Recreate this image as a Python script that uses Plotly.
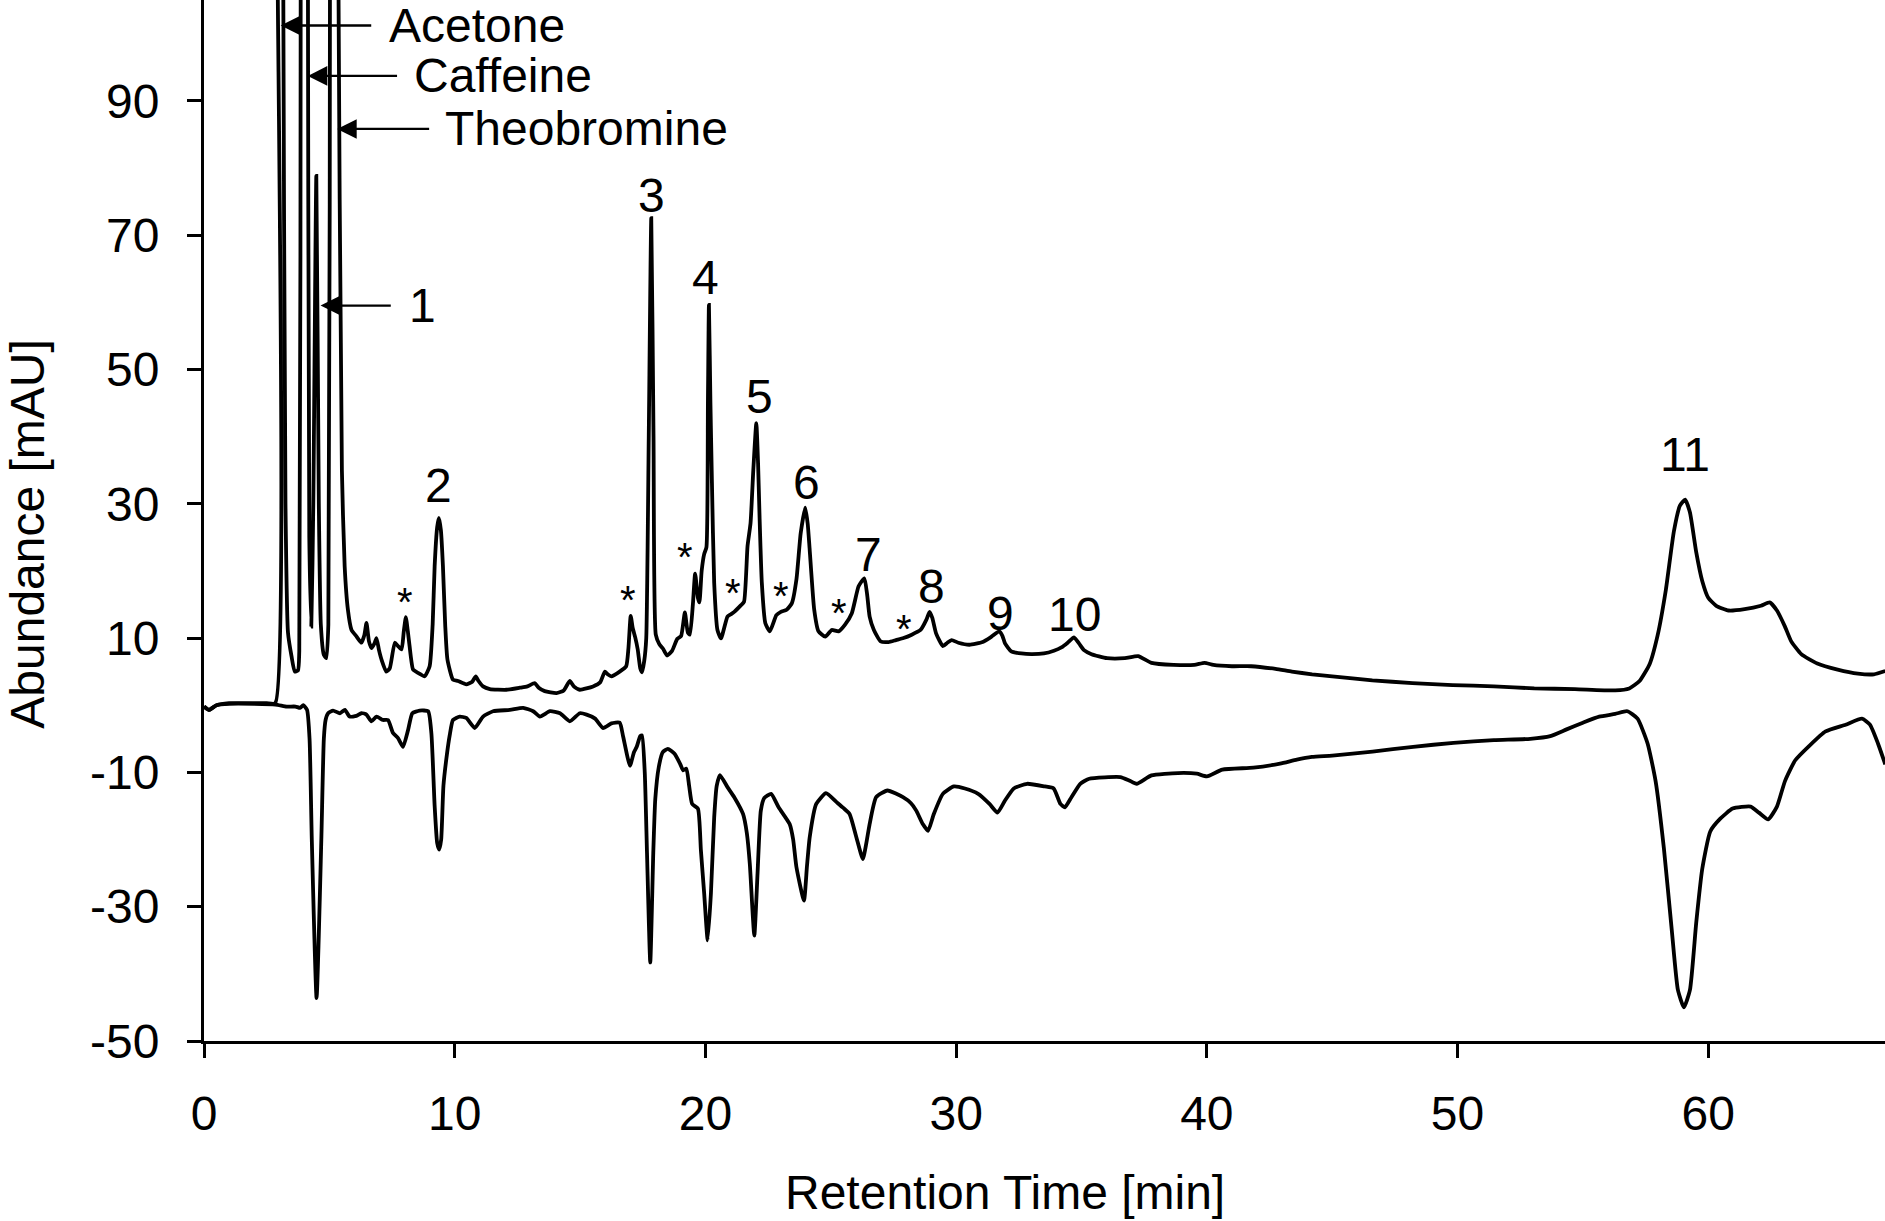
import plotly.graph_objects as go

# ---------------- data ----------------
upper_time = [0.0, 0.2, 0.5, 1.0, 1.5, 2.0, 2.5, 2.84, 2.90, 3.02, 3.16, 3.25, 3.35, 3.49, 3.62, 3.75, 3.80,
              3.86, 4.0, 4.14, 4.2, 4.28, 4.36, 4.48, 4.58, 4.66, 4.78, 4.88, 4.96,
              5.03, 5.2, 5.36, 5.5, 5.61, 5.74, 5.88, 6.08, 6.28, 6.4, 6.48, 6.58, 6.68, 6.8, 6.88, 6.98,
              7.08, 7.27, 7.41, 7.61, 7.74, 7.88, 7.97, 8.05, 8.13, 8.2, 8.34, 8.54, 8.8, 9.0, 9.12, 9.2,
              9.3, 9.37, 9.45, 9.53, 9.62, 9.71, 9.93, 10.13, 10.46, 10.7, 10.84, 10.95, 11.13, 11.4,
              12.06, 12.6, 12.9, 13.19, 13.35, 13.59, 14.06, 14.35, 14.59, 14.75, 14.99, 15.52, 15.8,
              15.99, 16.1, 16.25, 16.58, 16.84, 16.93, 17.02, 17.1, 17.2, 17.3, 17.4, 17.47, 17.56,
              17.64, 17.74, 17.84, 17.93, 18.02, 18.16, 18.31, 18.47, 18.67, 18.88, 19.03, 19.18, 19.3,
              19.38, 19.5, 19.59, 19.7, 19.76, 19.85, 19.95, 20.04, 20.1, 20.14, 20.2, 20.26, 20.35,
              20.48, 20.62, 20.88, 21.0, 21.15, 21.42, 21.54, 21.68, 21.8, 21.91, 22.03, 22.1, 22.16,
              22.25, 22.39, 22.57, 22.83, 23.01, 23.24, 23.45, 23.63, 23.8, 23.98, 24.08, 24.16, 24.34,
              24.51, 24.78, 25.04, 25.31, 25.57, 25.84, 26.11, 26.34, 26.45, 26.55, 26.72, 26.99, 27.3,
              27.6, 27.9, 28.23, 28.58, 28.81, 28.94, 29.05, 29.2, 29.47, 29.65, 29.82, 30.09, 30.53,
              31.06, 31.41, 31.72, 31.85, 31.95, 32.2, 32.6, 33.0, 33.5, 33.9, 34.2, 34.45, 34.7, 34.9,
              35.1, 35.4, 36.02, 36.73, 37.26, 37.79, 38.67, 39.5, 39.91, 40.26, 41.0, 41.77, 42.74,
              43.39, 44.2, 45.0, 46.6, 48.2, 49.8, 51.45, 53.06, 54.68, 56.29, 56.85, 57.26, 57.66,
              57.98, 58.31, 58.63, 58.87, 59.08, 59.27, 59.52, 59.76, 60.0, 60.32, 60.81, 61.45, 62.1,
              62.45, 62.74, 63.06, 63.31, 63.71, 64.35, 65.16, 65.97, 66.61, 67.06]
upper_abs = [-0.2, -0.7, 0.0, 0.3, 0.3, 0.3, 0.3, 0.3, 130, 420, 110, 30, 10.8, 7.3, 5.0, 5.2, 8.0,
             120, 500, 120, 25, 11.7, 30, 78.8, 30, 12, 7.5, 7.0, 12,
             130, 600, 110, 35, 20.7, 14.2, 11.25, 10.25, 9.3, 10.5, 12.25, 9.5, 8.5, 9.2, 10.0, 8.2,
             6.8, 5.0, 5.5, 9.3, 8.8, 8.3, 11.0, 13.1, 11.0, 8.8, 5.3, 4.8, 4.3, 5.8, 12.0, 20.7,
             26.5, 27.9, 26.0, 20.7, 12.0, 6.8, 3.8, 3.6, 3.1, 3.5, 4.3, 3.6, 2.8, 2.4,
             2.3, 2.6, 2.8, 3.3, 2.6, 2.1, 1.8, 2.2, 3.6, 2.8, 2.3, 2.8, 3.4,
             5.0, 4.6, 4.3, 5.0, 5.8, 8.5, 13.3, 11.5, 10.1, 8.3, 5.5, 4.9, 6.6,
             10.0, 40.0, 72.5, 40.0, 10.5, 9.1, 8.4, 7.4, 8.1, 9.9, 10.3, 13.8, 10.8,
             10.5, 15.0, 19.6, 16.0, 15.3, 20.0, 22.5, 23.5, 45.0, 59.6, 45.0, 33.1, 18.2,
             11.2, 9.95, 13.2, 13.5, 13.9, 14.9, 15.4, 23.7, 27.1, 35.0, 42.0, 36.0, 28.0,
             18.2, 12.2, 11.0, 13.4, 13.9, 14.2, 15.2, 18.7, 25.6, 29.4, 27.0, 23.1, 14.2,
             11.0, 10.2, 11.2, 11.0, 12.0, 13.7, 17.7, 18.9, 16.5, 13.2, 11.2, 9.5, 9.4,
             9.7, 10.0, 10.5, 11.2, 12.7, 13.9, 13.0, 10.7, 8.8, 9.3, 9.7, 9.3, 9.0,
             9.4, 10.2, 11.0, 10.3, 9.2, 8.0, 7.7, 7.6, 7.7, 8.1, 8.6, 9.3, 10.1, 9.2,
             8.2, 7.6, 7.0, 7.0, 7.3, 6.3, 6.0, 6.0, 6.3, 6.0, 5.8, 5.8, 5.4,
             5.0, 4.6, 4.3, 3.7, 3.3, 3.0, 2.8, 2.5, 2.4, 2.2, 2.5, 3.6, 6.1,
             10.4, 17.2, 25.9, 29.7, 30.6, 28.7, 22.8, 18.5, 16.0, 14.8, 14.1, 14.3, 14.8,
             15.3, 14.1, 11.7, 9.5, 7.6, 6.2, 5.3, 4.7, 4.6, 5.1]

lower_time = [0.0, 0.2, 0.5, 1.0, 2.0, 2.85, 3.3, 3.65, 3.83, 3.96, 4.11, 4.21, 4.3, 4.49, 4.68, 4.78,
              4.85, 4.95, 5.15, 5.42, 5.62, 5.81, 6.08, 6.28, 6.48, 6.68, 6.88, 7.14, 7.34, 7.54, 7.74,
              7.94, 8.14, 8.31, 8.6, 8.94, 9.07, 9.2, 9.3, 9.38, 9.46, 9.55, 9.69, 9.8, 9.93, 10.2,
              10.46, 10.8, 11.13, 11.53, 12.2, 12.73, 13.13, 13.4, 13.8, 14.2, 14.59, 14.99, 15.26,
              15.6, 15.92, 16.25, 16.58, 16.72, 16.99, 17.15, 17.26, 17.4, 17.47, 17.58, 17.67, 17.8,
              17.92, 18.0, 18.14, 18.3, 18.5, 18.76, 19.0, 19.11, 19.24, 19.35, 19.47, 19.7, 19.82,
              19.95, 20.09, 20.22, 20.35, 20.45, 20.58, 20.88, 21.15, 21.5, 21.65, 21.77, 21.95, 22.08,
              22.21, 22.35, 22.62, 22.92, 23.36, 23.5, 23.63, 23.93, 24.05, 24.16, 24.42, 24.81, 25.22,
              25.5, 25.75, 26.02, 26.28, 26.42, 26.55, 26.81, 27.26, 27.88, 28.2, 28.41, 28.67, 28.88,
              29.11, 29.47, 29.91, 30.35, 30.88, 31.33, 31.65, 31.95, 32.3, 32.83, 33.54, 33.89, 34.16,
              34.34, 34.6, 34.95, 35.31, 36.55, 36.9, 37.2, 37.79, 38.85, 39.6, 40.0, 40.62, 41.86,
              42.92, 43.59, 44.19, 45.0, 46.61, 48.23, 49.84, 51.45, 52.9, 53.7, 54.35, 55.0, 55.65,
              56.29, 56.77, 57.18, 57.58, 57.9, 58.23, 58.55, 58.79, 59.03, 59.27, 59.52, 59.76, 60.08,
              60.48, 60.97, 61.69, 62.02, 62.39, 62.74, 63.06, 63.47, 64.03, 64.68, 65.48, 66.13,
              66.45, 66.77, 67.06]
lower_abs = [-0.2, -0.7, 0.0, 0.2, 0.2, 0.1, -0.2, -0.2, -0.4, 0.0, -0.7, -5.0, -20.0, -43.6, -20.0, -5.0,
             -2.2, -1.2, -0.8, -1.2, -0.7, -1.7, -1.6, -1.2, -1.4, -2.4, -1.7, -2.2, -2.2, -4.15, -4.9,
             -6.2, -3.7, -1.2, -0.8, -0.9, -4.2, -15.0, -20.5, -21.5, -20.0, -12.0, -7.3, -4.5, -2.2, -1.7,
             -1.9, -3.4, -1.7, -0.9, -0.7, -0.4, -0.9, -1.7, -0.9, -1.2, -2.4, -1.2, -1.4,
             -2.0, -3.4, -2.7, -2.6, -4.7, -9.0, -7.0, -6.2, -4.6, -4.5, -10.0, -22.0, -38.3,
             -22.0, -14.0, -9.2, -7.0, -6.5, -7.2, -8.8, -9.7, -9.45, -12.0, -14.7, -15.4, -21.6,
             -28.0, -35.0, -28.0, -16.7, -12.0, -10.4, -12.2, -13.7, -16.2, -19.0, -23.6, -34.3, -25.0,
             -15.7, -13.8, -13.2, -15.2, -17.7, -20.0, -24.1, -29.1, -24.0, -19.65, -14.7, -13.1, -14.4,
             -15.3, -16.2, -19.65, -22.9, -20.5, -17.7, -13.7, -12.7, -13.7, -14.6, -15.7, -17.7, -18.7,
             -16.2, -13.2, -12.1, -12.4, -13.2, -14.7, -16.0, -14.2, -12.4, -11.7, -12.1, -12.4, -14.7,
             -15.2, -13.7, -11.7, -10.95, -10.7, -11.2, -11.7, -10.45, -10.1, -10.2, -10.6, -9.6, -9.3,
             -8.7, -8.1, -7.7, -7.5, -6.9, -6.2, -5.6, -5.2, -5.0, -4.6, -3.6, -2.6, -1.7,
             -1.3, -0.9, -2.0, -5.7, -11.3, -21.3, -33.7, -42.4, -45.0, -42.4, -32.4, -24.4, -18.8,
             -16.9, -15.4, -15.1, -16.0, -17.0, -15.1, -11.3, -8.2, -6.05, -3.9, -2.9, -2.0,
             -2.9, -5.7, -8.8]

x_ticks = [0, 10, 20, 30, 40, 50, 60]
y_ticks = [-50, -30, -10, 10, 30, 50, 70, 90]
y_tick_text = ["-50", "-30", "-10", "10", "30", "50", "70", "90"]

compound_names = ["Acetone", "Caffeine", "Theobromine", "1"]
compound_tip_t = [3.06, 4.14, 5.31, 4.65]
compound_tail_t = [6.73, 7.76, 9.04, 7.51]
compound_text_t = [7.35, 8.33, 9.59, 8.15]
compound_y = [101.2, 93.7, 85.8, 59.5]

peak_labels = ["2", "3", "4", "5", "6", "7", "8", "9", "10", "11"]
peak_label_t = [9.35, 17.84, 20.0, 22.16, 24.03, 26.52, 29.02, 31.75, 34.72, 59.09]
peak_label_y = [32.7, 75.9, 63.7, 46.0, 33.2, 22.5, 17.7, 13.7, 13.5, 37.4]

star_t = [8.01, 16.93, 19.18, 21.1, 23.02, 25.32, 27.91]
star_y = [16.6, 17.0, 23.4, 18.0, 17.5, 15.0, 12.65]

# ---------------- figure ----------------
FONT = "Liberation Sans, Arial, Helvetica, sans-serif"
TXT = 48
fig = go.Figure()
for tt, yy in ((upper_time, upper_abs), (lower_time, lower_abs)):
    fig.add_trace(go.Scatter(x=tt, y=yy, mode="lines",
                             line=dict(color="black", width=3.8, shape="spline", smoothing=0.5),
                             hoverinfo="skip"))

ann = []
for name, tip, tail, tx, yy in zip(compound_names, compound_tip_t, compound_tail_t,
                                   compound_text_t, compound_y):
    ann.append(dict(x=tip, y=yy, ax=tail, ay=yy, xref="x", yref="y", axref="x", ayref="y",
                    text="", showarrow=True, arrowhead=2, arrowsize=1.7, arrowwidth=2.3,
                    arrowcolor="black", standoff=0, startstandoff=0))
    ann.append(dict(x=tx, y=yy, xref="x", yref="y", text=name, showarrow=False,
                    xanchor="left", yanchor="middle", borderpad=0,
                    font=dict(family=FONT, size=TXT, color="black")))
for lab, t, yy in zip(peak_labels, peak_label_t, peak_label_y):
    ann.append(dict(x=t, y=yy, xref="x", yref="y", text=lab, showarrow=False,
                    xanchor="center", yanchor="middle",
                    font=dict(family=FONT, size=TXT, color="black")))
for t, yy in zip(star_t, star_y):
    ann.append(dict(x=t, y=yy - 1.3, xref="x", yref="y", text="*", showarrow=False,
                    xanchor="center", yanchor="middle",
                    font=dict(family=FONT, size=40, color="black")))

# axis titles
ann.append(dict(x=0.4763, y=-0.146, xref="paper", yref="paper", text="Retention Time [min]",
                showarrow=False, xanchor="center", yanchor="middle", borderpad=0,
                font=dict(family=FONT, size=TXT, color="black")))
ann.append(dict(x=-0.1055, y=0.487, xref="paper", yref="paper", text="Abundance [mAU]",
                showarrow=False, xanchor="center", yanchor="middle", textangle=-90, borderpad=0,
                font=dict(family=FONT, size=TXT, color="black")))

fig.update_layout(
    width=1885, height=1221,
    margin=dict(l=204, r=0, t=0, b=180),
    plot_bgcolor="white", paper_bgcolor="white",
    showlegend=False,
    font=dict(family=FONT, size=TXT, color="black"),
    annotations=ann,
)
axis_style = dict(showline=True, linecolor="black", linewidth=3, ticks="outside",
                  ticklen=14, tickwidth=3, tickcolor="black", showgrid=False, zeroline=False,
                  tickfont=dict(family=FONT, size=TXT, color="black"))
fig.update_xaxes(range=[0, 67.05], tickvals=x_ticks, ticklabelstandoff=14, **axis_style)
fig.update_yaxes(range=[-50, 105], tickvals=y_ticks, ticktext=y_tick_text,
                 ticklabelstandoff=18, **axis_style)

fig.write_html("out.html", config={"displayModeBar": False},
               post_script="document.body.style.margin='0';")
